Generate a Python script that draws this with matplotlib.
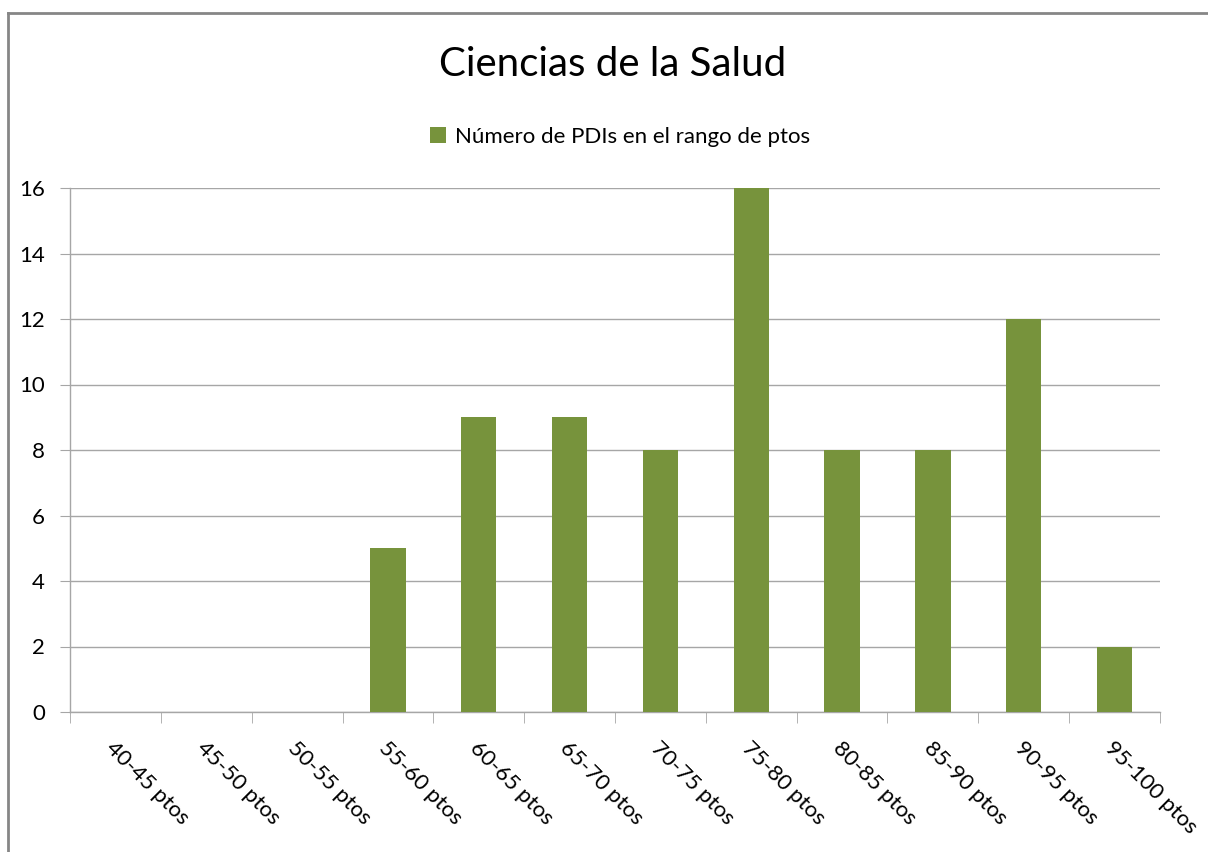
import numpy as np
import matplotlib
matplotlib.use('Agg')
import matplotlib.pyplot as plt
from matplotlib.lines import Line2D

plt.rcParams['font.family'] = ['Lato', 'DejaVu Sans']

categories = ['40-45 ptos', '45-50 ptos', '50-55 ptos', '55-60 ptos', '60-65 ptos',
              '65-70 ptos', '70-75 ptos', '75-80 ptos', '80-85 ptos', '85-90 ptos',
              '90-95 ptos', '95-100 ptos']
values = [0, 0, 0, 5, 9, 9, 8, 16, 8, 8, 12, 2]
series_name = 'Número de PDIs en el rango de ptos'
yticks = [0, 2, 4, 6, 8, 10, 12, 14, 16]

green = '#77933C'
gray = '#868686'
grid_gray = '#A6A6A6'

fig = plt.figure(figsize=(12.08, 8.52), dpi=100)
ax = fig.add_axes([70 / 1208, 1 - 712 / 852, 1090 / 1208, 524 / 852])

x = np.arange(len(categories))
ax.bar(x, values, width=0.39, color=green, zorder=3, label=series_name)

ax.set_xlim(-0.5, len(categories) - 0.5)
ax.set_ylim(0, 16)
ax.set_yticks(yticks)
ax.yaxis.grid(True, color=grid_gray, linewidth=1, zorder=0)

for s in ['top', 'right']:
    ax.spines[s].set_visible(False)
for s in ['left', 'bottom']:
    ax.spines[s].set_color(grid_gray)
    ax.spines[s].set_linewidth(1)

ax.tick_params(axis='y', length=7, color=grid_gray, labelsize=16, pad=11)
ax.set_xticks(x)
ax.set_xticklabels([])
ax.tick_params(axis='x', which='major', length=0)
ax.set_xticks(np.arange(-0.5, len(categories)), minor=True)
ax.tick_params(axis='x', which='minor', length=8, color=grid_gray)

for xi, lab in zip(x, categories):
    ax.text(xi + 0.01, -0.8, lab, rotation=-45, rotation_mode='anchor',
            ha='left', va='top', fontsize=16, transform=ax.transData,
            clip_on=False)

fig.text(613 / 1208, 1 - 65 / 852, 'Ciencias de la Salud', ha='center', va='center',
         fontsize=29)

leg = ax.legend(loc='center', bbox_to_anchor=(620 / 1208, 1 - 137 / 852),
                bbox_transform=fig.transFigure, frameon=False, fontsize=16,
                handlelength=0.75, handleheight=0.75, handletextpad=0.4)

# chart border (cut off at right and bottom)
fig.add_artist(Line2D([8 / 1208, 8 / 1208], [0, 1 - 13 / 852], color=gray,
                      linewidth=2, transform=fig.transFigure))
fig.add_artist(Line2D([8 / 1208, 1], [1 - 13 / 852, 1 - 13 / 852], color=gray,
                      linewidth=2, transform=fig.transFigure))

fig.savefig('out.png', dpi=100, facecolor='white')
